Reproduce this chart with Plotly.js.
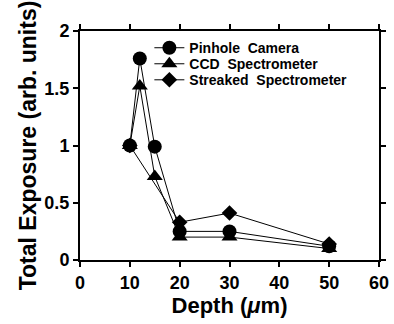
<!DOCTYPE html>
<html><head><meta charset="utf-8">
<script src="https://cdn.plot.ly/plotly-3.0.1.min.js"></script>
<style>html,body{margin:0;padding:0;background:#fff}#c{width:394px;height:324px}</style>
</head><body><div id="c"></div>
<script>
const seriesNames = ["Pinhole  Camera", "CCD  Spectrometer", "Streaked  Spectrometer"];
const pinholeX = [10, 12, 15, 20, 30, 50];
const pinholeY = [1.0, 1.76, 0.99, 0.25, 0.25, 0.12];
const ccdX = [10, 12, 15, 20, 30, 50];
const ccdY = [1.0, 1.52, 0.73, 0.2, 0.2, 0.1];
const streakX = [10, 20, 30, 50];
const streakY = [1.0, 0.33, 0.41, 0.14];
const symbols = ["circle", "triangle-up", "diamond"];
const markerSizes = [14, 14, 12];
const xTicks = [0, 10, 20, 30, 40, 50, 60];
const yTicks = [0, 0.5, 1, 1.5, 2];
const yTickText = ["0", "0.5", "1", "1.5", "2"];

const F = "Liberation Sans, Arial, sans-serif";
const xs = [pinholeX, ccdX, streakX], ys = [pinholeY, ccdY, streakY];
const legendIds = ["legend", "legend2", "legend3"];
const drawOrder = [2, 0, 1];
const traces = drawOrder.map(i => ({
  x: xs[i], y: ys[i], name: seriesNames[i], type: "scatter", mode: "lines+markers",
  legend: legendIds[i],
  line: {color: "#000", width: 1},
  marker: {symbol: symbols[i], size: markerSizes[i], color: "#000"}
}));
const axisCommon = {
  showline: true, linewidth: 2, linecolor: "#000", mirror: "ticks",
  ticks: "outside", ticklen: 5, tickwidth: 2, tickcolor: "#000",
  showgrid: false, zeroline: false,
  tickfont: {family: F, size: 18, color: "#000", weight: "bold"}
};
const legendRowsY = [0.995, 0.925, 0.855];
function legendAt(y) {
  return {x: 0.232, y: y, xanchor: "left", yanchor: "top", bgcolor: "rgba(0,0,0,0)",
    font: {family: F, size: 14, color: "#000", weight: "bold"}, itemwidth: 30};
}
const layout = {
  width: 394, height: 324,
  margin: {l: 80, r: 15, t: 31, b: 64},
  paper_bgcolor: "#fff", plot_bgcolor: "#fff",
  showlegend: true,
  legend: legendAt(legendRowsY[0]),
  legend2: legendAt(legendRowsY[1]),
  legend3: legendAt(legendRowsY[2]),
  xaxis: Object.assign({}, axisCommon, {range: [0, 60], tickvals: xTicks, ticktext: xTicks.map(String),
    title: {text: "Depth (<i>μ</i>m)", font: {family: F, size: 22, color: "#000", weight: "bold"}, standoff: 3}}),
  yaxis: Object.assign({}, axisCommon, {range: [0, 2], tickvals: yTicks, ticktext: yTickText,
    title: {text: "Total Exposure (arb. units)", font: {family: F, size: 23, color: "#000", weight: "bold"}, standoff: 1}})
};
Plotly.newPlot("c", traces, layout, {displayModeBar: false, staticPlot: true});
</script></body></html>
